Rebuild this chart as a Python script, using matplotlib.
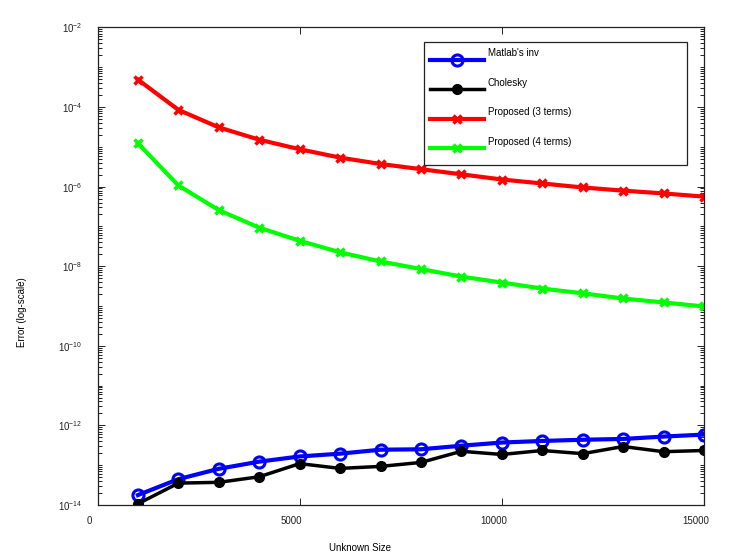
import numpy as np
import matplotlib
matplotlib.use('Agg')
import matplotlib.pyplot as plt
from matplotlib.ticker import LogLocator, FixedLocator, NullFormatter
from matplotlib.transforms import ScaledTranslation

plt.rcParams['font.family'] = ['Liberation Sans', 'DejaVu Sans']
plt.rcParams['mathtext.default'] = 'regular'

# problem sizes
sizes = [1000, 2000, 3000, 4000, 5000, 6000, 7000, 8000,
         9000, 10000, 11000, 12000, 13000, 14000, 15000]

# log10 of the error
log_inv = [-13.75, -13.35, -13.09, -12.91, -12.78, -12.71, -12.61, -12.60,
           -12.51, -12.43, -12.39, -12.36, -12.34, -12.28, -12.23]
log_chol = [-13.97, -13.45, -13.43, -13.29, -12.96, -13.08, -13.03, -12.93,
            -12.65, -12.73, -12.63, -12.71, -12.53, -12.66, -12.63]
log_p3 = [-3.31, -4.07, -4.51, -4.82, -5.06, -5.27, -5.43, -5.56,
          -5.69, -5.82, -5.92, -6.02, -6.10, -6.17, -6.25]
log_p4 = [-4.91, -5.97, -6.59, -7.03, -7.36, -7.65, -7.88, -8.07,
          -8.26, -8.41, -8.56, -8.68, -8.81, -8.91, -9.01]

labels = ["Matlab's inv", "Cholesky", "Proposed (3 terms)", "Proposed (4 terms)"]

fig = plt.figure(figsize=(7.31, 5.60), dpi=100)
ax = fig.add_axes([0.1334, 0.0982, 0.8296, 0.8527])

# trailing newline lifts the legend text above its line, as in the original
x = np.array(sizes)
ax.plot(x, 10.0 ** np.array(log_inv), color='#0000ff', lw=3, marker='o',
        ms=8, mfc='none', mew=2.2, label=labels[0] + '\n')
ax.plot(x, 10.0 ** np.array(log_chol), color='black', lw=2.5, marker='o',
        ms=7, label=labels[1] + '\n')
ax.plot(x, 10.0 ** np.array(log_p3), color='#ff0000', lw=3, marker='x',
        ms=6, mew=2.5, label=labels[2] + '\n')
ax.plot(x, 10.0 ** np.array(log_p4), color='#00ff00', lw=3, marker='x',
        ms=6, mew=2.5, label=labels[3] + '\n')

ax.set_yscale('log')
ax.set_xlim(0, 15000)
ax.set_ylim(1e-14, 1e-2)
ax.xaxis.set_major_locator(FixedLocator([0, 5000, 10000, 15000]))
ax.yaxis.set_major_locator(FixedLocator([10.0 ** e for e in range(-14, -1, 2)]))
ax.yaxis.set_minor_locator(LogLocator(base=10, subs=np.arange(1, 10), numticks=30))
ax.yaxis.set_minor_formatter(NullFormatter())

ax.tick_params(which='both', direction='in', top=True, right=True,
               labelsize=7, colors='#222222')
ax.tick_params(which='major', length=4.8, width=0.7)
ax.tick_params(which='minor', length=2.7, width=0.7)
ax.tick_params(axis='y', which='major', pad=11)
ax.tick_params(axis='x', which='major', pad=8)
for sp in ax.spines.values():
    sp.set_linewidth(0.9)
    sp.set_color('#222222')

shift = ScaledTranslation(-0.08, 0, fig.dpi_scale_trans)
for lab in ax.get_xticklabels():
    lab.set_transform(lab.get_transform() + shift)

ax.set_xlabel('Unknown Size', fontsize=7)
ax.set_ylabel('Error (log-scale)', fontsize=7)
ax.xaxis.set_label_coords(0.433, -0.08)
ax.yaxis.set_label_coords(-0.116, 0.404)

leg = ax.legend(loc='upper left', bbox_to_anchor=(0.538, 0.713, 0.434, 0.256),
                mode='expand', fontsize=7, numpoints=1, fancybox=False,
                framealpha=1, edgecolor='#222222', handlelength=5.6,
                handletextpad=0.35, labelspacing=0.82, borderpad=0.62,
                borderaxespad=0)
leg.get_frame().set_linewidth(0.9)

fig.savefig('out.png', dpi=100)
